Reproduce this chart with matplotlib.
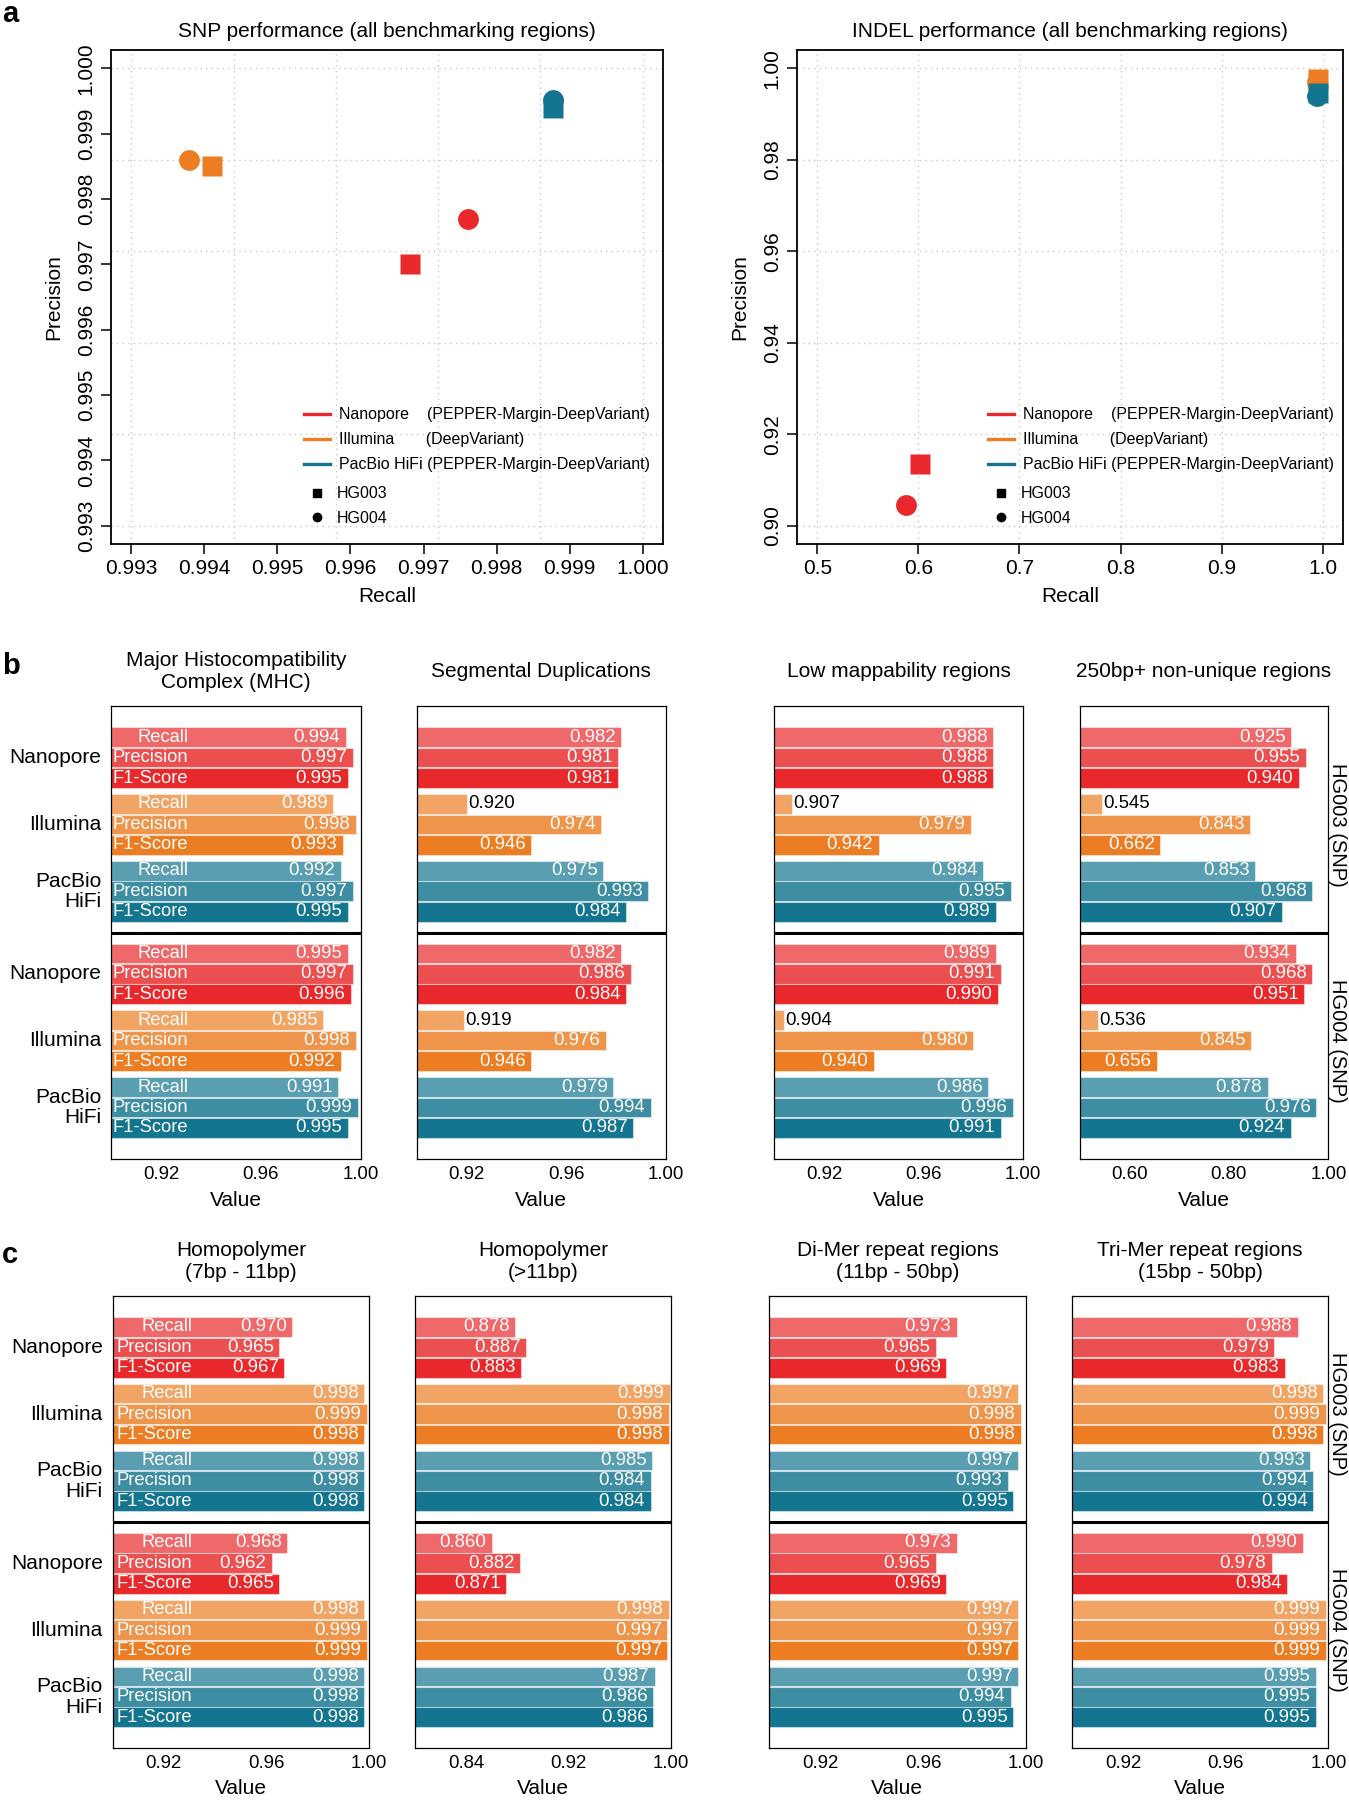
import numpy as np
import matplotlib.pyplot as plt
from matplotlib.lines import Line2D

plt.rcParams['font.family'] = ['Liberation Sans', 'DejaVu Sans']

W, H = 1349, 1800

# ---------------- data: panel a ----------------
techs = ['Nanopore', 'Illumina', 'PacBio HiFi']
legend_labels = ['Nanopore    (PEPPER-Margin-DeepVariant)',
                 'Illumina       (DeepVariant)',
                 'PacBio HiFi (PEPPER-Margin-DeepVariant)']
samples = ['HG003', 'HG004']

snp_recall_hg003 = [0.99681, 0.99411, 0.99877]
snp_prec_hg003 = [0.99700, 0.99850, 0.99940]
snp_recall_hg004 = [0.99761, 0.99379, 0.99877]
snp_prec_hg004 = [0.99770, 0.99859, 0.99951]

indel_recall_hg003 = [0.602, 0.9948, 0.9948]
indel_prec_hg003 = [0.9134, 0.9976, 0.9947]
indel_recall_hg004 = [0.588, 0.9946, 0.9946]
indel_prec_hg004 = [0.9046, 0.9970, 0.9940]

snp_ticks = [0.993, 0.994, 0.995, 0.996, 0.997, 0.998, 0.999, 1.000]
indel_xticks = [0.5, 0.6, 0.7, 0.8, 0.9, 1.0]
indel_yticks = [0.90, 0.92, 0.94, 0.96, 0.98, 1.00]

# ---------------- data: panels b, c ----------------
# each row: Nanopore (R, P, F1), Illumina (R, P, F1), PacBio HiFi (R, P, F1); rows = HG003, HG004
metrics = ['Recall', 'Precision', 'F1-Score']

mhc = [[0.994, 0.997, 0.995, 0.989, 0.998, 0.993, 0.992, 0.997, 0.995],
       [0.995, 0.997, 0.996, 0.985, 0.998, 0.992, 0.991, 0.999, 0.995]]
segdup = [[0.982, 0.981, 0.981, 0.920, 0.974, 0.946, 0.975, 0.993, 0.984],
          [0.982, 0.986, 0.984, 0.919, 0.976, 0.946, 0.979, 0.994, 0.987]]
lowmap = [[0.988, 0.988, 0.988, 0.907, 0.979, 0.942, 0.984, 0.995, 0.989],
          [0.989, 0.991, 0.990, 0.904, 0.980, 0.940, 0.986, 0.996, 0.991]]
nonuniq = [[0.925, 0.955, 0.940, 0.545, 0.843, 0.662, 0.853, 0.968, 0.907],
           [0.934, 0.968, 0.951, 0.536, 0.845, 0.656, 0.878, 0.976, 0.924]]
homo_7_11 = [[0.970, 0.965, 0.967, 0.998, 0.999, 0.998, 0.998, 0.998, 0.998],
             [0.968, 0.962, 0.965, 0.998, 0.999, 0.999, 0.998, 0.998, 0.998]]
homo_11 = [[0.878, 0.887, 0.883, 0.999, 0.998, 0.998, 0.985, 0.984, 0.984],
           [0.860, 0.882, 0.871, 0.998, 0.997, 0.997, 0.987, 0.986, 0.986]]
dimer = [[0.973, 0.965, 0.969, 0.997, 0.998, 0.998, 0.997, 0.993, 0.995],
         [0.973, 0.965, 0.969, 0.997, 0.997, 0.997, 0.997, 0.994, 0.995]]
trimer = [[0.988, 0.979, 0.983, 0.998, 0.999, 0.998, 0.993, 0.994, 0.994],
          [0.990, 0.978, 0.984, 0.999, 0.999, 0.999, 0.995, 0.995, 0.995]]

b_titles = ['Major Histocompatibility\nComplex (MHC)', 'Segmental Duplications',
            'Low mappability regions', '250bp+ non-unique regions']
c_titles = ['Homopolymer\n(7bp - 11bp)', 'Homopolymer\n(>11bp)',
            'Di-Mer repeat regions\n(11bp - 50bp)', 'Tri-Mer repeat regions\n(15bp - 50bp)']
strip_labels = ['HG003 (SNP)', 'HG004 (SNP)']

tech_colors = ['#E8282A', '#EC7D23', '#13758F']
metric_alpha = [0.70, 0.82, 1.0]


def shade(c, a):
    rgb = np.array([int(c[i:i + 2], 16) / 255 for i in (1, 3, 5)])
    return tuple(a * rgb + (1 - a))


def px_rect(l, t, r, b):
    return [l / W, 1 - b / H, (r - l) / W, (b - t) / H]


fig = plt.figure(figsize=(W / 100, H / 100), dpi=100)

# ---------------- panel a ----------------
def scatter_panel(rect, title, rx3, py3, rx4, py4, xlim, ylim, xticks, yticks, xfmt, yfmt):
    ax = fig.add_axes(px_rect(*rect))
    for v in np.linspace(xticks[0], xticks[-1], 6):
        ax.axvline(v, color='#C8C8C8', lw=1, ls=(0, (1, 3)), zorder=0)
    for v in np.linspace(yticks[0], yticks[-1], 6):
        ax.axhline(v, color='#C8C8C8', lw=1, ls=(0, (1, 3)), zorder=0)
    for i in range(3):
        ax.plot(rx3[i], py3[i], 's', color=tech_colors[i], ms=15, mec='none', zorder=3)
        ax.plot(rx4[i], py4[i], 'o', color=tech_colors[i], ms=15, mec='none', zorder=3)
    ax.set_xlim(xlim)
    ax.set_ylim(ylim)
    ax.set_xticks(xticks)
    ax.set_xticklabels([xfmt % t for t in xticks])
    ax.set_yticks(yticks)
    ax.set_yticklabels([yfmt % t for t in yticks], rotation=90, va='center')
    ax.tick_params(direction='out', length=7, width=1.1, labelsize=15, pad=4)
    for s in ax.spines.values():
        s.set_linewidth(1.3)
    ax.set_title(title, fontsize=15, pad=9)

    h1 = [Line2D([], [], color=c, lw=2.4) for c in tech_colors]
    leg1 = ax.legend(h1, legend_labels, loc='upper left', bbox_to_anchor=(0.349, 0.277),
                     frameon=False, fontsize=11.5, handlelength=1.65, handletextpad=0.55,
                     labelspacing=0.63, borderpad=0, borderaxespad=0)
    ax.add_artist(leg1)
    h2 = [Line2D([], [], ls='none', marker=m, color='black', ms=6) for m in ('s', 'o')]
    ax.legend(h2, samples, loc='upper left', bbox_to_anchor=(0.349, 0.117),
              frameon=False, fontsize=11.5, handlelength=1.65, handletextpad=0.45,
              labelspacing=0.6, borderpad=0, borderaxespad=0)
    cx = (rect[0] + rect[2]) / 2
    fig.text(cx / W, 1 - 597 / H, 'Recall', ha='center', va='center', fontsize=15)
    fig.text((rect[0] - 57) / W, 1 - 297 / H, 'Precision', ha='center', va='center',
             rotation=90, fontsize=15)
    return ax


scatter_panel((111, 50, 663, 544), 'SNP performance (all benchmarking regions)',
              snp_recall_hg003, snp_prec_hg003, snp_recall_hg004, snp_prec_hg004,
              (0.99272, 1.00028), (0.99272, 1.00028), snp_ticks, snp_ticks, '%.3f', '%.3f')
scatter_panel((797, 50, 1343, 544), 'INDEL performance (all benchmarking regions)',
              indel_recall_hg003, indel_prec_hg003, indel_recall_hg004, indel_prec_hg004,
              (0.48, 1.02), (0.896, 1.004), indel_xticks, indel_yticks, '%.1f', '%.2f')

# ---------------- panels b, c ----------------
GROUP, BLOCK = 3.265, 10.56
Y_TOP, Y_BOT, Y_MID = -1.5, 20.59, 9.545


def bar_panel(rect, title, vals, lo, ticks, first, last, value_y):
    ax = fig.add_axes(px_rect(*rect))
    for blk in range(2):
        for g in range(3):
            for m in range(3):
                v = vals[blk][g * 3 + m]
                y = blk * BLOCK + g * GROUP + m
                ax.barh(y, v, height=0.96, color=shade(tech_colors[g], metric_alpha[m]),
                        edgecolor=(1, 1, 1, 0.45), lw=0.8)
                if (v - lo) / (1 - lo) < 0.25:
                    ax.annotate('%.3f' % v, (v, y), xytext=(1, 0), textcoords='offset points',
                                ha='left', va='center', color='black', fontsize=13.4)
                else:
                    ax.annotate('%.3f' % v, (v, y), xytext=(-4, 0), textcoords='offset points',
                                ha='right', va='center', color='white', fontsize=13.4)
                if first:
                    ax.text(0.31, y, metrics[m], transform=ax.get_yaxis_transform(),
                            ha='right', va='center', color='white', fontsize=13.2)
            if first:
                ax.text(-0.038, blk * BLOCK + g * GROUP + 1, techs[g].replace(' ', '\n'),
                        transform=ax.get_yaxis_transform(), ha='right', va='center',
                        fontsize=15, linespacing=1.1)
        if last:
            ax.text(1.0, blk * BLOCK + GROUP + 1, strip_labels[blk],
                    transform=ax.get_yaxis_transform(), rotation=-90, ha='left',
                    va='center', fontsize=14.5)
    ax.axhline(Y_MID, color='black', lw=2.2)
    ax.set_xlim(lo, 1.0)
    ax.set_ylim(Y_BOT, Y_TOP)
    ax.set_yticks([])
    ax.set_xticks(ticks)
    ax.set_xticklabels(['%.2f' % t for t in ticks])
    ax.tick_params(axis='x', length=0, labelsize=13.4, pad=5)
    for s in ax.spines.values():
        s.set_linewidth(0.9)
    ax.text(0.5, 1 + 35 / 452, title, transform=ax.transAxes, ha='center', va='center',
            fontsize=15, linespacing=1.2)
    cx = (rect[0] + rect[2]) / 2
    fig.text(cx / W, 1 - value_y / H, 'Value', ha='center', va='center', fontsize=15)
    return ax


b_rects = [(111, 706.4, 360.5, 1158.7), (417, 706.4, 665.6, 1158.7),
           (774.3, 706.4, 1023, 1158.7), (1079.7, 706.4, 1328.4, 1158.7)]
c_rects = [(112.5, 1296.2, 369.2, 1747.9), (415, 1296.2, 671.3, 1747.9),
           (768.8, 1296.2, 1026, 1747.9), (1071.5, 1296.2, 1328.4, 1747.9)]

b_data = [mhc, segdup, lowmap, nonuniq]
b_lo = [0.9, 0.9, 0.9, 0.5]
b_ticks = [[0.92, 0.96, 1.00], [0.92, 0.96, 1.00], [0.92, 0.96, 1.00], [0.60, 0.80, 1.00]]
c_data = [homo_7_11, homo_11, dimer, trimer]
c_lo = [0.9, 0.8, 0.9, 0.9]
c_ticks = [[0.92, 0.96, 1.00], [0.84, 0.92, 1.00], [0.92, 0.96, 1.00], [0.92, 0.96, 1.00]]

for i in range(4):
    bar_panel(b_rects[i], b_titles[i], b_data[i], b_lo[i], b_ticks[i], i == 0, i == 3, 1200)
    bar_panel(c_rects[i], c_titles[i], c_data[i], c_lo[i], c_ticks[i], i == 0, i == 3, 1788)

# panel letters
for letter, yb in (('a', 22), ('b', 674), ('c', 1263)):
    fig.text(2 / W, 1 - yb / H, letter, fontsize=21, fontweight='bold', va='baseline')

fig.savefig('out.png', dpi=100)
